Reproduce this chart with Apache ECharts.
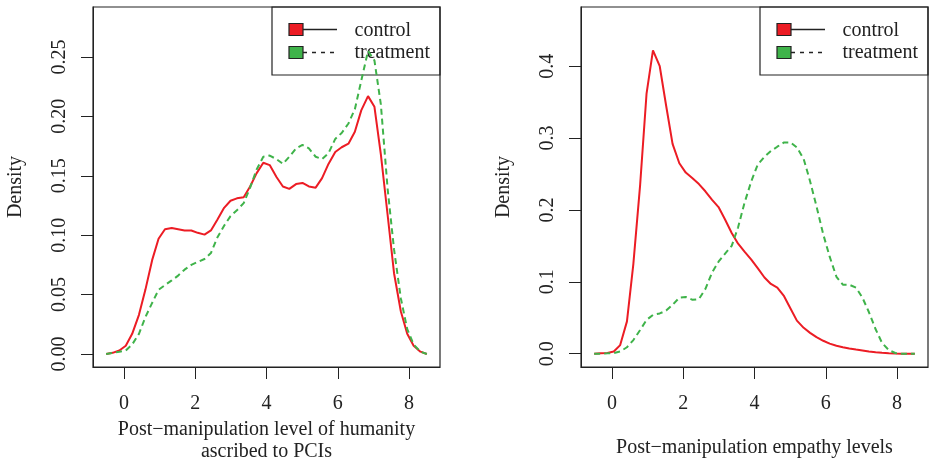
<!DOCTYPE html>
<html>
<head>
<meta charset="utf-8">
<script src="https://cdn.jsdelivr.net/npm/echarts@6/dist/echarts.min.js"></script>
<style>
  html, body { margin: 0; padding: 0; background: #fff; }
  #chart { width: 929px; height: 460px; }
</style>
</head>
<body>
<div id="chart"></div>
<script type="text/javascript">
// density grid (same x positions for all four curves)
var xs = [-0.5, -0.32, -0.13, 0.05, 0.23, 0.42, 0.60, 0.79, 0.97, 1.15,
  1.34, 1.52, 1.70, 1.89, 2.07, 2.26, 2.44, 2.62, 2.81, 2.99,
  3.17, 3.36, 3.54, 3.72, 3.91, 4.09, 4.28, 4.46, 4.64, 4.83,
  5.01, 5.19, 5.38, 5.56, 5.74, 5.93, 6.11, 6.30, 6.48, 6.66,
  6.85, 7.03, 7.21, 7.40, 7.58, 7.77, 7.95, 8.13, 8.32, 8.50];

// left panel: humanity ascribed to PCIs
var humControl = [0.000, 0.001, 0.003, 0.007, 0.017, 0.033, 0.054, 0.079, 0.097, 0.105,
  0.106, 0.105, 0.104, 0.104, 0.102, 0.1005, 0.104, 0.113, 0.123, 0.129,
  0.131, 0.132, 0.141, 0.152, 0.161, 0.159, 0.149, 0.141, 0.139, 0.143,
  0.144, 0.141, 0.140, 0.148, 0.160, 0.170, 0.174, 0.177, 0.187, 0.205,
  0.217, 0.208, 0.168, 0.117, 0.068, 0.036, 0.017, 0.007, 0.002, 0.000];
var humTreatment = [0.000, 0.001, 0.002, 0.003, 0.008, 0.017, 0.031, 0.043, 0.054, 0.058,
  0.062, 0.066, 0.071, 0.075, 0.0775, 0.080, 0.085, 0.098, 0.108, 0.116,
  0.121, 0.127, 0.140, 0.155, 0.166, 0.167, 0.164, 0.160, 0.166, 0.173,
  0.176, 0.173, 0.166, 0.164, 0.169, 0.181, 0.186, 0.194, 0.206, 0.230,
  0.255, 0.247, 0.210, 0.139, 0.088, 0.047, 0.021, 0.008, 0.002, 0.000];

// right panel: empathy levels
var empControl = [0.000, 0.0005, 0.001, 0.003, 0.012, 0.045, 0.125, 0.235, 0.362, 0.422,
  0.400, 0.345, 0.292, 0.265, 0.252, 0.244, 0.236, 0.226, 0.214, 0.204,
  0.187, 0.168, 0.153, 0.142, 0.131, 0.119, 0.106, 0.097, 0.092, 0.080,
  0.063, 0.046, 0.036, 0.029, 0.023, 0.018, 0.014, 0.011, 0.009, 0.0072,
  0.0058, 0.0045, 0.003, 0.002, 0.0012, 0.0007, 0.0003, 0.0001, 0.000, 0.000];
var empTreatment = [0.000, 0.000, 0.0005, 0.001, 0.003, 0.009, 0.019, 0.033, 0.047, 0.054,
  0.056, 0.060, 0.068, 0.078, 0.079, 0.075, 0.076, 0.090, 0.113, 0.128,
  0.139, 0.150, 0.176, 0.210, 0.240, 0.263, 0.274, 0.282, 0.288, 0.294,
  0.294, 0.287, 0.271, 0.240, 0.205, 0.166, 0.135, 0.107, 0.096, 0.096,
  0.092, 0.078, 0.058, 0.034, 0.015, 0.005, 0.001, 0.000, 0.000, 0.000];

var xTicks = [0, 2, 4, 6, 8];
var humTicks = [0, 0.05, 0.10, 0.15, 0.20, 0.25];
var empTicks = [0, 0.1, 0.2, 0.3, 0.4];
var legendNames = ['control', 'treatment'];

var RED = '#EC1C24', GREEN = '#3FB34A', INK = '#222';
var FONT = 'Liberation Serif';
var FS = 20;

function pairs(ys) {
  var out = [];
  for (var i = 0; i < xs.length; i++) out.push([xs[i], ys[i]]);
  return out;
}

// the main axes sit "on zero" of a hidden 0..1 helper axis, i.e. on the frame edge
function xAxisFor(idx, name, gap) {
  return {
    type: 'value', gridIndex: idx, min: -0.87, max: 8.87,
    name: name, nameLocation: 'middle', nameGap: gap,
    nameTextStyle: { fontSize: FS, color: INK, fontFamily: FONT, lineHeight: 22 },
    axisLine: { show: true, onZero: true, onZeroAxisIndex: 2 + idx, lineStyle: { color: INK, width: 1 } },
    splitLine: { show: false },
    axisTick: { show: true, length: 12, customValues: xTicks,
      lineStyle: { color: INK, width: 1 } },
    axisLabel: { customValues: xTicks, margin: 27, fontSize: FS, color: INK, fontFamily: FONT }
  };
}

function yAxisFor(idx, min, max, ticks, digits) {
  return {
    type: 'value', gridIndex: idx, min: min, max: max,
    name: 'Density', nameLocation: 'middle', nameGap: 67,
    nameTextStyle: { fontSize: FS, color: INK, fontFamily: FONT },
    axisLine: { show: true, onZero: true, onZeroAxisIndex: 2 + idx, lineStyle: { color: INK, width: 1 } },
    splitLine: { show: false },
    axisTick: { show: true, length: 12, customValues: ticks,
      lineStyle: { color: INK, width: 1 } },
    axisLabel: { customValues: ticks, rotate: 90, margin: 23, fontSize: FS, color: INK,
      fontFamily: FONT,
      formatter: function (v) { return v.toFixed(digits); } }
  };
}

function helperAxis(idx) {
  return { type: 'value', gridIndex: idx, min: 0, max: 1, show: false,
    axisLine: { onZero: false } };
}

function lineSeries(name, xi, data, color, dashed) {
  return {
    name: name, type: 'line', xAxisIndex: xi, yAxisIndex: xi,
    data: pairs(data), showSymbol: false, smooth: false, silent: true,
    lineStyle: { color: color, width: 2, type: dashed ? [6, 4] : 'solid' }
  };
}

// legend drawn like R's legend(): filled squares plus line samples
function legendBox(left) {
  var top = 7;
  return [
    { type: 'rect', shape: { x: left, y: top, width: 168, height: 68 },
      style: { fill: 'none', stroke: INK, lineWidth: 1.2 } },
    { type: 'rect', shape: { x: left + 17, y: top + 16.5, width: 14, height: 12 },
      style: { fill: RED, stroke: INK, lineWidth: 1.2 } },
    { type: 'line', shape: { x1: left + 31, y1: top + 22.5, x2: left + 65, y2: top + 22.5 },
      style: { stroke: INK, lineWidth: 1.3 } },
    { type: 'rect', shape: { x: left + 17, y: top + 39.5, width: 14, height: 12 },
      style: { fill: GREEN, stroke: INK, lineWidth: 1.2 } },
    { type: 'line', shape: { x1: left + 31, y1: top + 45.5, x2: left + 65, y2: top + 45.5 },
      style: { stroke: INK, lineWidth: 1.3, lineDash: [4, 5] } },
    { type: 'text', x: left + 82.5, y: top + 24, style: { text: legendNames[0], fontSize: FS,
      fontFamily: FONT, fill: INK, verticalAlign: 'middle' } },
    { type: 'text', x: left + 82.5, y: top + 46, style: { text: legendNames[1], fontSize: FS,
      fontFamily: FONT, fill: INK, verticalAlign: 'middle' } }
  ];
}

var chart = echarts.init(document.getElementById('chart'));
var option = {
  animation: false,
  textStyle: { fontFamily: FONT },
  grid: [
    { left: 93, top: 7, width: 347, height: 360, show: true, borderColor: INK, borderWidth: 1.2,
      outerBoundsMode: 'none' },
    { left: 581, top: 7, width: 347, height: 360, show: true, borderColor: INK, borderWidth: 1.2,
      outerBoundsMode: 'none' }
  ],
  xAxis: [
    xAxisFor(0, 'Post\u2212manipulation level of humanity\nascribed to PCIs', 48),
    xAxisFor(1, 'Post\u2212manipulation empathy levels', 70),
    helperAxis(0),
    helperAxis(1)
  ],
  yAxis: [
    yAxisFor(0, -0.0109, 0.292, humTicks, 2),
    yAxisFor(1, -0.0185, 0.4824, empTicks, 1),
    helperAxis(0),
    helperAxis(1)
  ],
  series: [
    lineSeries('control', 0, humControl, RED, false),
    lineSeries('treatment', 0, humTreatment, GREEN, true),
    lineSeries('control', 1, empControl, RED, false),
    lineSeries('treatment', 1, empTreatment, GREEN, true)
  ],
  graphic: legendBox(272).concat(legendBox(760))
};
chart.setOption(option);
</script>
</body>
</html>
